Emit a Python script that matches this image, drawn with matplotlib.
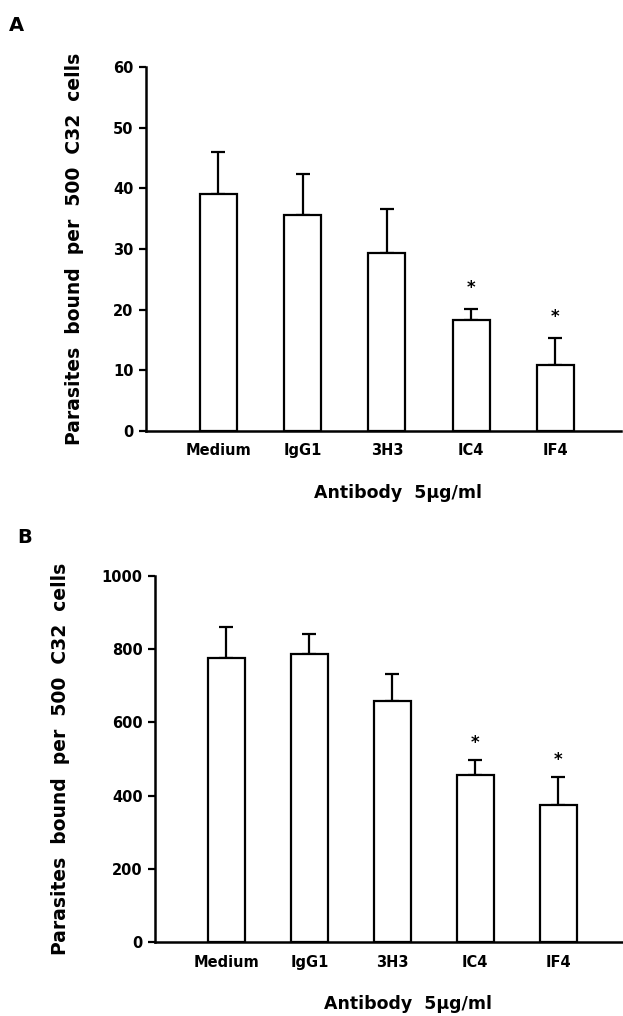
import matplotlib.pyplot as plt

plt.rcParams['font.family'] = ['DejaVu Sans']
plt.rcParams['font.weight'] = 'bold'

antibodies = ["Medium", "IgG1", "3H3", "IC4", "IF4"]
significant = [False, False, False, True, True]

# Panel A
bound_a = [39.0, 35.6, 29.3, 18.3, 10.9]
err_a = [7.0, 6.7, 7.3, 1.8, 4.4]

# Panel B
bound_b = [776, 787, 658, 456, 374]
err_b = [85, 55, 74, 41, 77]

ylabel = "Parasites  bound  per  500  C32  cells"
xlabel = "Antibody  5\u03bcg/ml"

fig = plt.figure(figsize=(6.23, 10.16), dpi=100)


def panel(rect, values, errors, ymax, step, letter, letter_xy, xlabel_x, star_off, ypad):
    ax = fig.add_axes(rect)
    x = range(len(values))
    ax.bar(x, values, width=0.44, color="white", edgecolor="black", linewidth=1.6, zorder=2)
    ax.errorbar(x, values, yerr=[[0] * len(errors), errors], fmt="none", ecolor="black",
                elinewidth=1.6, capsize=5, capthick=1.6, zorder=1)
    for i, (v, e, s) in enumerate(zip(values, errors, significant)):
        if s:
            ax.annotate("*", (i, v + e), xytext=(0, star_off), textcoords="offset points",
                        ha="center", va="center", fontsize=12, fontweight="bold")
    ax.set_ylim(0, ymax)
    ax.set_xlim(-0.86, 4.78)
    ax.set_yticks(range(0, ymax + 1, step))
    ax.set_xticks(list(x))
    ax.set_xticklabels(antibodies, fontsize=10.5, fontweight="bold")
    ax.tick_params(axis="x", length=0, pad=9)
    ax.tick_params(axis="y", length=5, width=1.6, labelsize=10.5, pad=4)
    for lbl in ax.get_yticklabels():
        lbl.set_fontweight("bold")
    ax.spines["top"].set_visible(False)
    ax.spines["right"].set_visible(False)
    ax.spines["left"].set_linewidth(1.8)
    ax.spines["bottom"].set_linewidth(1.8)
    ax.set_ylabel(ylabel, fontsize=13.5, fontweight="bold", labelpad=ypad)
    ax.set_xlabel(xlabel, fontsize=12.5, fontweight="bold", labelpad=14)
    ax.xaxis.set_label_coords(xlabel_x, -0.145)
    fig.text(letter_xy[0], letter_xy[1], letter, fontsize=14, fontweight="bold",
             ha="left", va="center")
    return ax


panel([0.2343, 0.5758, 0.7625, 0.3583], bound_a, err_a, 60, 10, "A",
      (0.015, 0.975), 0.53, 15, 21)
panel([0.2488, 0.0728, 0.7512, 0.3602], bound_b, err_b, 1000, 200, "B",
      (0.028, 0.471), 0.54, 12, 23)

fig.savefig("out.png", dpi=100)
